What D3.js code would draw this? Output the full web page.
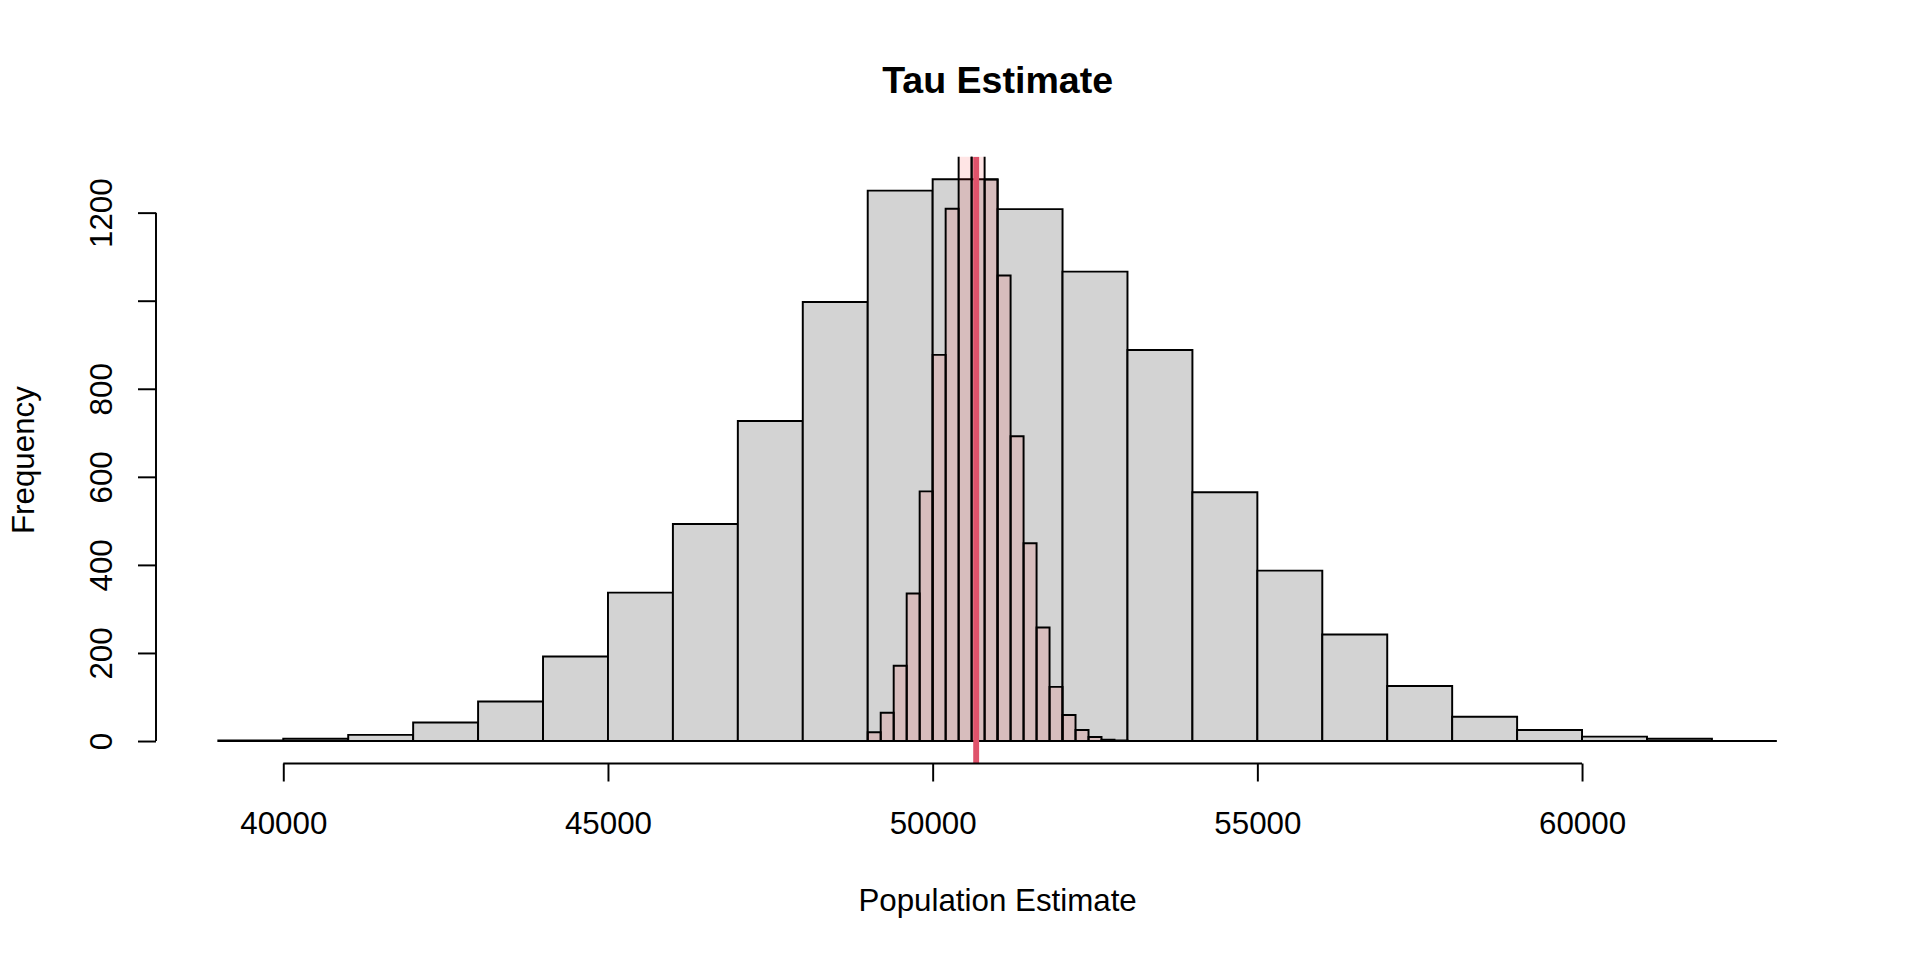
<!DOCTYPE html>
<html>
<head>
<meta charset="utf-8">
<script src="https://cdn.jsdelivr.net/npm/d3@7"></script>
<style>
  html, body { margin: 0; padding: 0; background: #fff; }
  text { font-family: "Liberation Sans", Arial, sans-serif; fill: #000; }
</style>
</head>
<body>
<svg id="chart" width="1920" height="960"></svg>
<script>
// wide histogram: bins of 1000 starting at 39000
const wideStart = 39000;
const wideWidth = 1000;
const wideCounts = [1, 5, 14, 42, 90, 192, 337, 493, 727, 997, 1250, 1276,
    1208, 1066, 888, 565, 387, 242, 125, 55, 25, 10, 5, 0];

// narrow histogram: bins of 200 starting at 49000
const narrowStart = 49000;
const narrowWidth = 200;
const narrowCounts = [20, 64, 171, 335, 567, 877, 1209, 1400, 1402, 1275,
    1057, 692, 449, 258, 123, 59, 25, 9, 3, 1];

// vertical reference line
const meanLine = 50670;

// axis ticks
const xTicks = [40000, 45000, 50000, 55000, 60000];
const yTicks = [0, 200, 400, 600, 800, 1000, 1200];
const yTickLabels = ["0", "200", "400", "600", "800", "", "1200"];

const titleText = "Tau Estimate";
const xLabel = "Population Estimate";
const yLabel = "Frequency";

// plot region (R default margins)
const pLeft = 156, pRight = 1839.2, pTop = 156.7, pBottom = 763.5;
const fs = 31.3;
const lw = 1.96;

const svg = d3.select('#chart');

const xLo = wideStart, xHi = wideStart + wideWidth * wideCounts.length;
const xPad = (xHi - xLo) * 0.04;
const x = d3.scaleLinear().domain([xLo - xPad, xHi + xPad]).range([pLeft, pRight]);
const yMax = d3.max(wideCounts);
const y = d3.scaleLinear().domain([-0.04 * yMax, 1.04 * yMax]).range([pBottom, pTop]);

svg.append('clipPath').attr('id', 'plotclip')
    .append('rect')
    .attr('x', pLeft).attr('y', pTop)
    .attr('width', pRight - pLeft).attr('height', pBottom - pTop);

const plot = svg.append('g').attr('clip-path', 'url(#plotclip)');

// bars as closed paths so empty bins still show their outline
function barPath(start, width) {
    return (d, i) => {
        const x0 = x(start + i * width), x1 = x(start + (i + 1) * width);
        return `M${x0},${y(0)}H${x1}V${y(d)}H${x0}Z`;
    };
}

plot.append('g').selectAll('path')
    .data(wideCounts)
    .enter()
    .append('path')
    .attr('d', barPath(wideStart, wideWidth))
    .attr('fill', '#d3d3d3')
    .attr('stroke', '#000')
    .attr('stroke-width', lw);

// narrow bars, translucent red
plot.append('g').selectAll('path')
    .data(narrowCounts)
    .enter()
    .append('path')
    .attr('d', barPath(narrowStart, narrowWidth))
    .attr('fill', 'rgba(255,0,0,0.1)')
    .attr('stroke', '#000')
    .attr('stroke-width', lw);

// mean line
plot.append('line')
    .attr('x1', x(meanLine)).attr('x2', x(meanLine))
    .attr('y1', pTop).attr('y2', pBottom)
    .attr('stroke', '#DF536B')
    .attr('stroke-width', 5.9);

// x axis
const xAxis = svg.append('g')
    .attr('transform', `translate(0,${pBottom})`)
    .call(d3.axisBottom(x).tickValues(xTicks).tickSize(18).tickSizeOuter(0).tickFormat(d3.format('d')));
xAxis.select('.domain').remove();
xAxis.append('line')
    .attr('x1', x(xTicks[0])).attr('x2', x(xTicks[xTicks.length - 1]))
    .attr('stroke', '#000').attr('stroke-width', lw);
xAxis.selectAll('.tick line').attr('stroke', '#000').attr('stroke-width', lw);
xAxis.selectAll('.tick text')
    .attr('y', 834 - pBottom).attr('dy', null)
    .style('font-family', '"Liberation Sans", Arial, sans-serif')
    .style('font-size', fs + 'px');

// y axis
const yAxis = svg.append('g')
    .attr('transform', `translate(${pLeft},0)`)
    .call(d3.axisLeft(y).tickValues(yTicks).tickSize(18).tickSizeOuter(0)
        .tickFormat((d, i) => yTickLabels[i]));
yAxis.select('.domain').remove();
yAxis.append('line')
    .attr('y1', y(yTicks[0])).attr('y2', y(yTicks[yTicks.length - 1]))
    .attr('stroke', '#000').attr('stroke-width', lw);
yAxis.selectAll('.tick line').attr('stroke', '#000').attr('stroke-width', lw);
yAxis.selectAll('.tick text')
    .attr('x', null).attr('dy', null)
    .attr('text-anchor', 'middle')
    .attr('transform', `translate(${112 - pLeft},0) rotate(-90)`)
    .style('font-family', '"Liberation Sans", Arial, sans-serif')
    .style('font-size', fs + 'px');

// titles
svg.append('text')
    .attr('x', (pLeft + pRight) / 2).attr('y', 92.7)
    .attr('text-anchor', 'middle')
    .style('font-weight', 'bold')
    .style('font-size', (fs * 1.2) + 'px')
    .text(titleText);

svg.append('text')
    .attr('x', (pLeft + pRight) / 2).attr('y', 911)
    .attr('text-anchor', 'middle')
    .style('font-size', fs + 'px')
    .text(xLabel);

svg.append('text')
    .attr('transform', `translate(34.3,${(pTop + pBottom) / 2}) rotate(-90)`)
    .attr('text-anchor', 'middle')
    .style('font-size', fs + 'px')
    .text(yLabel);
</script>
</body>
</html>
